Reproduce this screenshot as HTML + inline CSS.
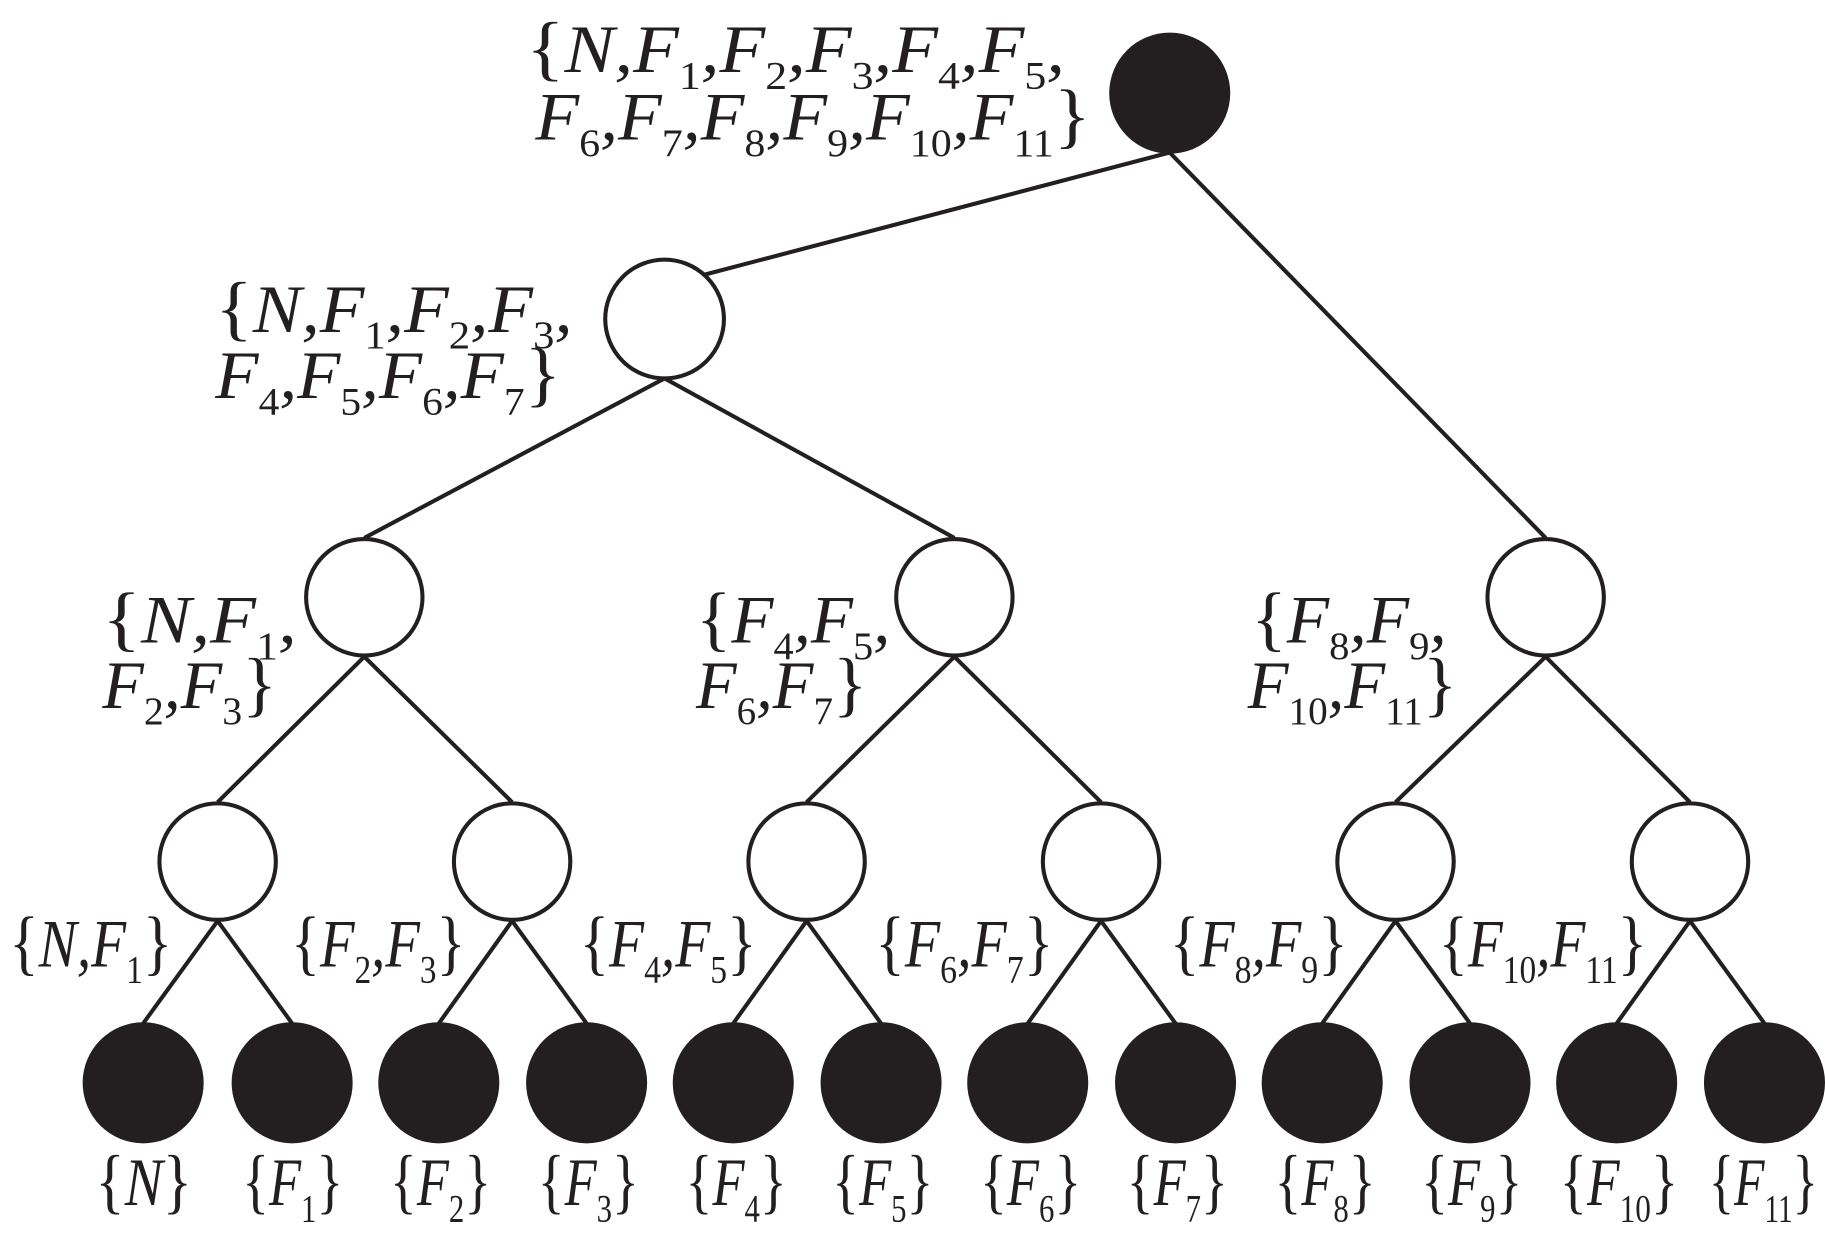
<!DOCTYPE html>
<html><head><meta charset="utf-8"><style>
html,body{margin:0;padding:0;background:#fff;}
svg{display:block}
text{font-family:"Liberation Serif","Times New Roman",serif;font-size:58px;font-style:italic;fill:#231f20}
.s{font-style:normal;font-size:34px}
.b{font-style:normal;font-size:62px}
</style></head><body>
<svg width="1825" height="1233" viewBox="0 0 1568 1059" preserveAspectRatio="none" xmlns="http://www.w3.org/2000/svg">
<g stroke="#231f20" stroke-width="3.5" fill="none">
<line x1="1005" y1="131" x2="605" y2="236"/>
<line x1="1005" y1="131" x2="1328" y2="462"/>
<line x1="571" y1="325" x2="313" y2="462"/>
<line x1="571" y1="325" x2="820" y2="462"/>
<line x1="313" y1="564" x2="187" y2="689"/>
<line x1="313" y1="564" x2="440" y2="689"/>
<line x1="820" y1="564" x2="693" y2="689"/>
<line x1="820" y1="564" x2="946" y2="689"/>
<line x1="1328" y1="564" x2="1199" y2="689"/>
<line x1="1328" y1="564" x2="1452" y2="689"/>
<line x1="187" y1="791" x2="123" y2="879"/><line x1="187" y1="791" x2="251" y2="879"/>
<line x1="440" y1="791" x2="377" y2="879"/><line x1="440" y1="791" x2="504" y2="879"/>
<line x1="693" y1="791" x2="630" y2="879"/><line x1="693" y1="791" x2="757" y2="879"/>
<line x1="946" y1="791" x2="883" y2="879"/><line x1="946" y1="791" x2="1010" y2="879"/>
<line x1="1199" y1="791" x2="1136" y2="879"/><line x1="1199" y1="791" x2="1263" y2="879"/>
<line x1="1452" y1="791" x2="1389" y2="879"/><line x1="1452" y1="791" x2="1516" y2="879"/>
</g>
<g stroke="#231f20" stroke-width="3.5" fill="#fff">
<circle cx="571" cy="274" r="51"/>
<circle cx="313" cy="513" r="50"/><circle cx="820" cy="513" r="50"/><circle cx="1328" cy="513" r="50"/>
<circle cx="187" cy="740" r="50"/><circle cx="440" cy="740" r="50"/><circle cx="693" cy="740" r="50"/>
<circle cx="946" cy="740" r="50"/><circle cx="1199" cy="740" r="50"/><circle cx="1452" cy="740" r="50"/>
</g>
<g fill="#231f20">
<circle cx="1005" cy="80" r="52"/>
<circle cx="123" cy="930" r="52"/><circle cx="251" cy="930" r="52"/><circle cx="377" cy="930" r="52"/>
<circle cx="504" cy="930" r="52"/><circle cx="630" cy="930" r="52"/><circle cx="757" cy="930" r="52"/>
<circle cx="883" cy="930" r="52"/><circle cx="1010" cy="930" r="52"/><circle cx="1136" cy="930" r="52"/>
<circle cx="1263" cy="930" r="52"/><circle cx="1389" cy="930" r="52"/><circle cx="1516" cy="930" r="52"/>
</g>

<text x="452" y="62" textLength="463" lengthAdjust="spacingAndGlyphs"><tspan class="b">{</tspan>N,F<tspan class="s" dy="14">1</tspan><tspan dy="-14">,F</tspan><tspan class="s" dy="14">2</tspan><tspan dy="-14">,F</tspan><tspan class="s" dy="14">3</tspan><tspan dy="-14">,F</tspan><tspan class="s" dy="14">4</tspan><tspan dy="-14">,F</tspan><tspan class="s" dy="14">5</tspan><tspan dy="-14">,</tspan></text>
<text x="460" y="120" textLength="477" lengthAdjust="spacingAndGlyphs">F<tspan class="s" dy="14">6</tspan><tspan dy="-14">,F</tspan><tspan class="s" dy="14">7</tspan><tspan dy="-14">,F</tspan><tspan class="s" dy="14">8</tspan><tspan dy="-14">,F</tspan><tspan class="s" dy="14">9</tspan><tspan dy="-14">,F</tspan><tspan class="s" dy="14">10</tspan><tspan dy="-14">,F</tspan><tspan class="s" dy="14">11</tspan><tspan class="b" dy="-14">}</tspan></text>

<text x="185" y="285" textLength="307" lengthAdjust="spacingAndGlyphs"><tspan class="b">{</tspan>N,F<tspan class="s" dy="14">1</tspan><tspan dy="-14">,F</tspan><tspan class="s" dy="14">2</tspan><tspan dy="-14">,F</tspan><tspan class="s" dy="14">3</tspan><tspan dy="-14">,</tspan></text>
<text x="185" y="342" textLength="297" lengthAdjust="spacingAndGlyphs">F<tspan class="s" dy="14">4</tspan><tspan dy="-14">,F</tspan><tspan class="s" dy="14">5</tspan><tspan dy="-14">,F</tspan><tspan class="s" dy="14">6</tspan><tspan dy="-14">,F</tspan><tspan class="s" dy="14">7</tspan><tspan class="b" dy="-14">}</tspan></text>

<text x="88" y="552" textLength="167" lengthAdjust="spacingAndGlyphs"><tspan class="b">{</tspan>N,F<tspan class="s" dy="14">1</tspan><tspan dy="-14">,</tspan></text>
<text x="88" y="608" textLength="150" lengthAdjust="spacingAndGlyphs">F<tspan class="s" dy="14">2</tspan><tspan dy="-14">,F</tspan><tspan class="s" dy="14">3</tspan><tspan class="b" dy="-14">}</tspan></text>

<text x="598" y="552" textLength="167" lengthAdjust="spacingAndGlyphs"><tspan class="b">{</tspan>F<tspan class="s" dy="14">4</tspan><tspan dy="-14">,F</tspan><tspan class="s" dy="14">5</tspan><tspan dy="-14">,</tspan></text>
<text x="598" y="608" textLength="147" lengthAdjust="spacingAndGlyphs">F<tspan class="s" dy="14">6</tspan><tspan dy="-14">,F</tspan><tspan class="s" dy="14">7</tspan><tspan class="b" dy="-14">}</tspan></text>

<text x="1075" y="552" textLength="168" lengthAdjust="spacingAndGlyphs"><tspan class="b">{</tspan>F<tspan class="s" dy="14">8</tspan><tspan dy="-14">,F</tspan><tspan class="s" dy="14">9</tspan><tspan dy="-14">,</tspan></text>
<text x="1072" y="608" textLength="180" lengthAdjust="spacingAndGlyphs">F<tspan class="s" dy="14">10</tspan><tspan dy="-14">,F</tspan><tspan class="s" dy="14">11</tspan><tspan class="b" dy="-14">}</tspan></text>

<text x="8" y="830" textLength="140" lengthAdjust="spacingAndGlyphs"><tspan class="b">{</tspan>N,F<tspan class="s" dy="14">1</tspan><tspan class="b" dy="-14">}</tspan></text>
<text x="250" y="830" textLength="150" lengthAdjust="spacingAndGlyphs"><tspan class="b">{</tspan>F<tspan class="s" dy="14">2</tspan><tspan dy="-14">,F</tspan><tspan class="s" dy="14">3</tspan><tspan class="b" dy="-14">}</tspan></text>
<text x="498" y="830" textLength="152" lengthAdjust="spacingAndGlyphs"><tspan class="b">{</tspan>F<tspan class="s" dy="14">4</tspan><tspan dy="-14">,F</tspan><tspan class="s" dy="14">5</tspan><tspan class="b" dy="-14">}</tspan></text>
<text x="752" y="830" textLength="153" lengthAdjust="spacingAndGlyphs"><tspan class="b">{</tspan>F<tspan class="s" dy="14">6</tspan><tspan dy="-14">,F</tspan><tspan class="s" dy="14">7</tspan><tspan class="b" dy="-14">}</tspan></text>
<text x="1005" y="830" textLength="153" lengthAdjust="spacingAndGlyphs"><tspan class="b">{</tspan>F<tspan class="s" dy="14">8</tspan><tspan dy="-14">,F</tspan><tspan class="s" dy="14">9</tspan><tspan class="b" dy="-14">}</tspan></text>
<text x="1236" y="830" textLength="179" lengthAdjust="spacingAndGlyphs"><tspan class="b">{</tspan>F<tspan class="s" dy="14">10</tspan><tspan dy="-14">,F</tspan><tspan class="s" dy="14">11</tspan><tspan class="b" dy="-14">}</tspan></text>

<g>
<text x="82" y="1035" textLength="83" lengthAdjust="spacingAndGlyphs"><tspan class="b">{</tspan>N<tspan class="b">}</tspan></text>
<text x="208" y="1035" textLength="87" lengthAdjust="spacingAndGlyphs"><tspan class="b">{</tspan>F<tspan class="s" dy="14">1</tspan><tspan class="b" dy="-14">}</tspan></text>
<text x="335" y="1035" textLength="87" lengthAdjust="spacingAndGlyphs"><tspan class="b">{</tspan>F<tspan class="s" dy="14">2</tspan><tspan class="b" dy="-14">}</tspan></text>
<text x="462" y="1035" textLength="87" lengthAdjust="spacingAndGlyphs"><tspan class="b">{</tspan>F<tspan class="s" dy="14">3</tspan><tspan class="b" dy="-14">}</tspan></text>
<text x="589" y="1035" textLength="87" lengthAdjust="spacingAndGlyphs"><tspan class="b">{</tspan>F<tspan class="s" dy="14">4</tspan><tspan class="b" dy="-14">}</tspan></text>
<text x="715" y="1035" textLength="87" lengthAdjust="spacingAndGlyphs"><tspan class="b">{</tspan>F<tspan class="s" dy="14">5</tspan><tspan class="b" dy="-14">}</tspan></text>
<text x="842" y="1035" textLength="87" lengthAdjust="spacingAndGlyphs"><tspan class="b">{</tspan>F<tspan class="s" dy="14">6</tspan><tspan class="b" dy="-14">}</tspan></text>
<text x="968" y="1035" textLength="87" lengthAdjust="spacingAndGlyphs"><tspan class="b">{</tspan>F<tspan class="s" dy="14">7</tspan><tspan class="b" dy="-14">}</tspan></text>
<text x="1095" y="1035" textLength="87" lengthAdjust="spacingAndGlyphs"><tspan class="b">{</tspan>F<tspan class="s" dy="14">8</tspan><tspan class="b" dy="-14">}</tspan></text>
<text x="1221" y="1035" textLength="87" lengthAdjust="spacingAndGlyphs"><tspan class="b">{</tspan>F<tspan class="s" dy="14">9</tspan><tspan class="b" dy="-14">}</tspan></text>
<text x="1340" y="1035" textLength="102" lengthAdjust="spacingAndGlyphs"><tspan class="b">{</tspan>F<tspan class="s" dy="14">10</tspan><tspan class="b" dy="-14">}</tspan></text>
<text x="1468" y="1035" textLength="94" lengthAdjust="spacingAndGlyphs"><tspan class="b">{</tspan>F<tspan class="s" dy="14">11</tspan><tspan class="b" dy="-14">}</tspan></text>
</g>
</svg>
</body></html>
